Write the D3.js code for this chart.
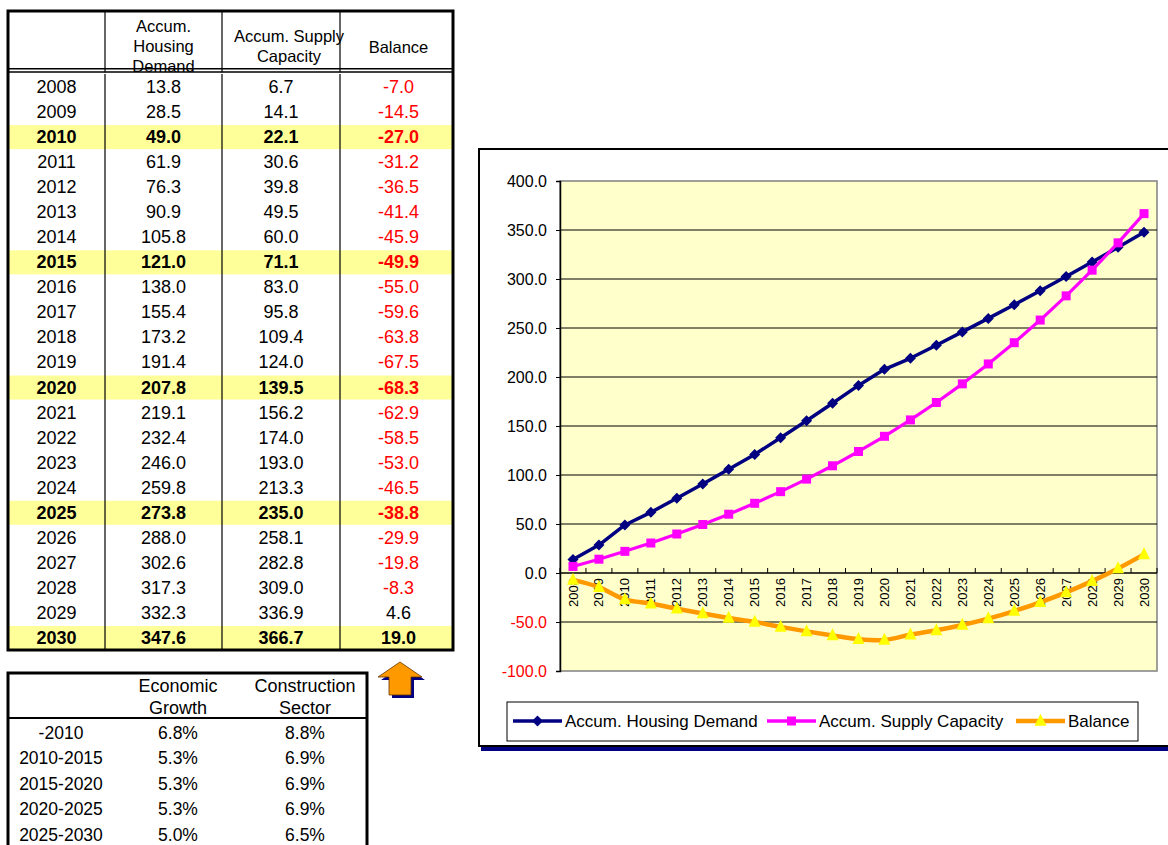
<!DOCTYPE html>
<html>
<head>
<meta charset="utf-8">
<script src="https://cdn.jsdelivr.net/npm/d3@7"></script>
<style>
  html, body { margin: 0; padding: 0; background: #fff; }
  svg { display: block; font-family: "Liberation Sans", Arial, sans-serif; }
</style>
</head>
<body>
<svg id="chart" width="1168" height="845"></svg>
<script>
// Housing demand vs. supply capacity projections (accumulated)
const years = ["2008","2009","2010","2011","2012","2013","2014","2015","2016","2017","2018","2019",
               "2020","2021","2022","2023","2024","2025","2026","2027","2028","2029","2030"];
const demand  = [13.8, 28.5, 49.0, 61.9, 76.3, 90.9, 105.8, 121.0, 138.0, 155.4, 173.2, 191.4,
                 207.8, 219.1, 232.4, 246.0, 259.8, 273.8, 288.0, 302.6, 317.3, 332.3, 347.6];
const supply  = [6.7, 14.1, 22.1, 30.6, 39.8, 49.5, 60.0, 71.1, 83.0, 95.8, 109.4, 124.0,
                 139.5, 156.2, 174.0, 193.0, 213.3, 235.0, 258.1, 282.8, 309.0, 336.9, 366.7];
const balance = [-7.0, -14.5, -27.0, -31.2, -36.5, -41.4, -45.9, -49.9, -55.0, -59.6, -63.8, -67.5,
                 -68.3, -62.9, -58.5, -53.0, -46.5, -38.8, -29.9, -19.8, -8.3, 4.6, 19.0];
const highlightYears = ["2010", "2015", "2020", "2025", "2030"];

const periods = ["-2010", "2010-2015", "2015-2020", "2020-2025", "2025-2030"];
const economicGrowth = [6.8, 5.3, 5.3, 5.3, 5.0];
const constructionGrowth = [8.8, 6.9, 6.9, 6.9, 6.5];

const yTicks = [-100, -50, 0, 50, 100, 150, 200, 250, 300, 350, 400];

const seriesNames = ["Accum. Housing Demand", "Accum. Supply Capacity", "Balance"];

const svg = d3.select("#chart");
const FONT = "\"Liberation Sans\", Arial, sans-serif";
// plain hyphen for negative numbers
const locale = d3.formatLocale({ decimal: ".", thousands: ",", grouping: [3], currency: ["$", ""], minus: "-" });
const fmt1 = locale.format(".1f");

// ---------------- Main data table ----------------
const tbl = { left: 8, right: 453, top: 11, headBottom: 70, bodyTop: 74, bottom: 650 };
const colEdges = [tbl.left, 105, 222, 340, tbl.right];
const colCenter = i => (colEdges[i] + colEdges[i + 1]) / 2;

const rowScale = d3.scaleBand().domain(years).range([tbl.bodyTop, tbl.bottom]);
const rowsData = years.map((y, i) => ({ year: y, d: demand[i], s: supply[i], b: balance[i],
                                         hi: highlightYears.includes(y) }));

const tableG = svg.append("g");
// highlighted rows
tableG.selectAll("rect.hi").data(rowsData.filter(r => r.hi)).join("rect")
  .attr("x", tbl.left).attr("width", tbl.right - tbl.left)
  .attr("y", r => rowScale(r.year) + 1).attr("height", rowScale.bandwidth() - 1)
  .attr("fill", "#FFFF99");

// column separators
tableG.selectAll("line.col").data(colEdges.slice(1, -1)).join("line")
  .attr("x1", d => d).attr("x2", d => d)
  .attr("y1", tbl.top).attr("y2", tbl.bottom)
  .attr("stroke", "#000").attr("stroke-width", 1.2);

// header texts
const headers = [
  { col: 1, lines: ["Accum.", "Housing", "Demand"], y0: 26, dx: 0 },
  { col: 2, lines: ["Accum. Supply", "Capacity"], y0: 36, dx: 8 },
  { col: 3, lines: ["Balance"], y0: 47, dx: 2 }
];
headers.forEach(h => {
  const t = tableG.append("text")
    .attr("text-anchor", "middle").attr("font-size", 16.5).attr("fill", "#000");
  h.lines.forEach((ln, k) => {
    t.append("tspan").attr("x", colCenter(h.col) + h.dx)
      .attr("y", h.y0 + k * 20).attr("dy", "0.35em").text(ln);
  });
});

// white strip under header to mask overflowing text, then double rule
tableG.append("rect").attr("x", tbl.left).attr("y", 72.5).attr("width", tbl.right - tbl.left)
  .attr("height", 1.5).attr("fill", "#fff");
tableG.append("line").attr("x1", tbl.left).attr("x2", tbl.right).attr("y1", 68.8).attr("y2", 68.8)
  .attr("stroke", "#000").attr("stroke-width", 1.6);
tableG.append("line").attr("x1", tbl.left).attr("x2", tbl.right).attr("y1", 72).attr("y2", 72)
  .attr("stroke", "#000").attr("stroke-width", 1.6);

// body cells
const rowG = tableG.selectAll("g.row").data(rowsData).join("g")
  .attr("transform", r => `translate(0,${rowScale(r.year) + rowScale.bandwidth() / 2})`)
  .attr("font-size", 18).attr("font-weight", r => r.hi ? "bold" : "normal")
  .attr("text-anchor", "middle");
rowG.append("text").attr("x", colCenter(0)).attr("dy", "0.36em").text(r => r.year);
rowG.append("text").attr("x", colCenter(1)).attr("dy", "0.36em").text(r => fmt1(r.d));
rowG.append("text").attr("x", colCenter(2)).attr("dy", "0.36em").text(r => fmt1(r.s));
rowG.append("text").attr("x", colCenter(3) + 2).attr("dy", "0.36em")
  .attr("fill", r => r.b < 0 ? "#FF0000" : "#000").text(r => fmt1(r.b));

// outer frame
tableG.append("rect").attr("x", tbl.left).attr("y", tbl.top)
  .attr("width", tbl.right - tbl.left).attr("height", tbl.bottom - tbl.top)
  .attr("fill", "none").attr("stroke", "#000").attr("stroke-width", 3);

// ---------------- Growth assumptions table ----------------
const g2 = svg.append("g");
const t2 = { left: 8, right: 367, top: 673, headBottom: 718, bottom: 860 };
const cols2 = [61, 178, 305];
const periodRows = d3.scaleBand().domain(periods).range([720, 848]);

[["Economic", "Growth"], ["Construction", "Sector"]].forEach((lines, k) => {
  const t = g2.append("text").attr("text-anchor", "middle").attr("font-size", 18);
  lines.forEach((ln, j) => t.append("tspan").attr("x", cols2[k + 1]).attr("y", 686 + j * 22)
    .attr("dy", "0.35em").text(ln));
});
g2.append("line").attr("x1", t2.left).attr("x2", t2.right).attr("y1", t2.headBottom).attr("y2", t2.headBottom)
  .attr("stroke", "#000").attr("stroke-width", 2);

const pr = g2.selectAll("g.prow").data(periods.map((p, i) => ({ p, e: economicGrowth[i], c: constructionGrowth[i] })))
  .join("g")
  .attr("transform", d => `translate(0,${periodRows(d.p) + periodRows.bandwidth() / 2})`)
  .attr("font-size", 17.5).attr("text-anchor", "middle");
pr.append("text").attr("x", cols2[0]).attr("dy", "0.33em").text(d => d.p);
pr.append("text").attr("x", cols2[1]).attr("dy", "0.33em").text(d => fmt1(d.e) + "%");
pr.append("text").attr("x", cols2[2]).attr("dy", "0.33em").text(d => fmt1(d.c) + "%");

g2.append("rect").attr("x", t2.left).attr("y", t2.top).attr("width", t2.right - t2.left)
  .attr("height", t2.bottom - t2.top).attr("fill", "none").attr("stroke", "#000").attr("stroke-width", 3);

// ---------------- Up arrow pointing at the 2030 balance ----------------
const arrowPts = [[400, 662], [422, 677], [411, 677], [411, 695], [389, 695], [389, 677], [378, 677]];
svg.append("polygon").attr("points", arrowPts.map(p => [p[0] + 3, p[1] + 3].join(",")).join(" "))
  .attr("fill", "#000080");
svg.append("polygon").attr("points", arrowPts.map(p => p.join(",")).join(" "))
  .attr("fill", "#FF9900").attr("stroke", "#663300").attr("stroke-width", 0.8);

// ---------------- Line chart ----------------
const frame = { left: 479, top: 149, right: 1200, bottom: 746 };
svg.append("rect").attr("x", frame.left + 2).attr("y", frame.bottom + 1)
  .attr("width", 1168 - frame.left).attr("height", 4).attr("fill", "#000080");
svg.append("rect").attr("x", frame.left).attr("y", frame.top)
  .attr("width", frame.right - frame.left).attr("height", frame.bottom - frame.top)
  .attr("fill", "#fff").attr("stroke", "#000").attr("stroke-width", 2);

const plot = { left: 560, right: 1157, top: 181, bottom: 671 };
const x = d3.scaleBand().domain(years).range([plot.left, plot.right]);
const y = d3.scaleLinear().domain([-100, 400]).range([plot.bottom, plot.top]);
const xc = yr => x(yr) + x.bandwidth() / 2;

svg.append("rect").attr("x", plot.left).attr("y", plot.top)
  .attr("width", plot.right - plot.left).attr("height", plot.bottom - plot.top)
  .attr("fill", "#FFFFCC").attr("stroke", "#808080").attr("stroke-width", 1.5);

// gridlines
svg.append("g").selectAll("line").data(yTicks.filter(v => v > -100 && v < 400)).join("line")
  .attr("x1", plot.left).attr("x2", plot.right)
  .attr("y1", d => y(d)).attr("y2", d => y(d))
  .attr("stroke", "#000").attr("stroke-width", 1);

// y axis
const yAxis = svg.append("g").attr("transform", `translate(${plot.left},0)`)
  .call(d3.axisLeft(y).tickValues(yTicks).tickFormat(fmt1).tickSize(4).tickPadding(9));
yAxis.select(".domain").attr("stroke", "#000").attr("stroke-width", 1.5);
yAxis.selectAll("text").attr("font-family", FONT).attr("font-size", 16)
  .attr("fill", d => d < 0 ? "#FF0000" : "#000");

// category axis on the zero line, labels rotated
const xAxis = svg.append("g").attr("transform", `translate(0,${y(0)})`);
xAxis.append("line").attr("x1", plot.left).attr("x2", plot.right).attr("stroke", "#000").attr("stroke-width", 1.2);
xAxis.selectAll("line.tk").data(years.concat(["end"])).join("line")
  .attr("x1", (d, i) => plot.left + i * x.step()).attr("x2", (d, i) => plot.left + i * x.step())
  .attr("y1", 0).attr("y2", -5).attr("stroke", "#000");
xAxis.selectAll("text").data(years).join("text")
  .attr("transform", d => `translate(${xc(d)},5) rotate(-90)`)
  .attr("text-anchor", "end").attr("dy", "0.35em")
  .attr("font-size", 13).attr("fill", "#000").text(d => d);

// series
const colours = ["#000080", "#FF00FF", "#FF9900"];
const lineStraight = d3.line().x(d => xc(d.year)).y(d => y(d.v));
const lineSmooth = d3.line().x(d => xc(d.year)).y(d => y(d.v)).curve(d3.curveCardinal.tension(0));
const toPts = arr => years.map((yr, i) => ({ year: yr, v: arr[i] }));

const diamond = (g, cx, cy, r, fill) => g.append("path")
  .attr("d", `M${cx},${cy - r}L${cx + r},${cy}L${cx},${cy + r}L${cx - r},${cy}Z`).attr("fill", fill);
const square = (g, cx, cy, s, fill) => g.append("rect")
  .attr("x", cx - s / 2).attr("y", cy - s / 2).attr("width", s).attr("height", s).attr("fill", fill);
const triangle = (g, cx, cy, s, fill) => g.append("path")
  .attr("d", `M${cx},${cy - s * 0.6}L${cx + s / 2},${cy + s * 0.4}L${cx - s / 2},${cy + s * 0.4}Z`).attr("fill", fill);

const series = svg.append("g");
// Balance
series.append("path").attr("d", lineSmooth(toPts(balance)))
  .attr("fill", "none").attr("stroke", colours[2]).attr("stroke-width", 4.5).attr("stroke-linejoin", "round");
toPts(balance).forEach(p => triangle(series, xc(p.year), y(p.v), 12, "#FFFF00"));
// Demand
series.append("path").attr("d", lineStraight(toPts(demand)))
  .attr("fill", "none").attr("stroke", colours[0]).attr("stroke-width", 3.5).attr("stroke-linejoin", "round");
toPts(demand).forEach(p => diamond(series, xc(p.year), y(p.v), 5.5, colours[0]));
// Supply
series.append("path").attr("d", lineStraight(toPts(supply)))
  .attr("fill", "none").attr("stroke", colours[1]).attr("stroke-width", 3.2).attr("stroke-linejoin", "round");
toPts(supply).forEach(p => square(series, xc(p.year), y(p.v), 9, colours[1]));

// legend
const lg = svg.append("g");
lg.append("rect").attr("x", 507).attr("y", 702).attr("width", 631).attr("height", 39)
  .attr("fill", "#fff").attr("stroke", "#000").attr("stroke-width", 1);
const legendItems = [
  { name: seriesNames[0], x0: 513, colour: colours[0], mark: "diamond" },
  { name: seriesNames[1], x0: 767, colour: colours[1], mark: "square" },
  { name: seriesNames[2], x0: 1016, colour: colours[2], mark: "triangle" }
];
legendItems.forEach(it => {
  const cy = 721;
  lg.append("line").attr("x1", it.x0).attr("x2", it.x0 + 49).attr("y1", cy).attr("y2", cy)
    .attr("stroke", it.colour).attr("stroke-width", it.mark === "triangle" ? 4.5 : 3.5);
  const mx = it.x0 + 24.5;
  if (it.mark === "diamond") diamond(lg, mx, cy, 5.5, it.colour);
  else if (it.mark === "square") square(lg, mx, cy, 9, it.colour);
  else triangle(lg, mx, cy, 12, "#FFFF00");
  lg.append("text").attr("x", it.x0 + 52).attr("y", cy).attr("dy", "0.35em")
    .attr("font-size", 17).attr("fill", "#000").text(it.name);
});
</script>
</body>
</html>
